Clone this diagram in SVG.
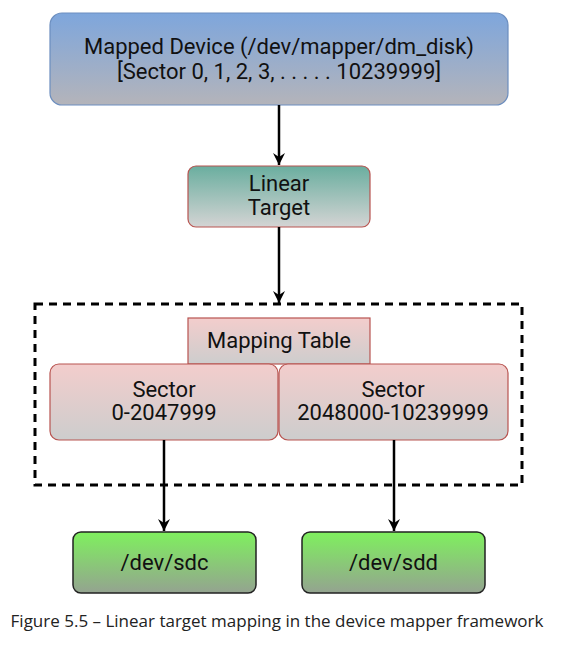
<svg xmlns="http://www.w3.org/2000/svg" width="564" height="648" viewBox="0 0 564 648">
  <defs>
    <linearGradient id="gBlue" x1="0" y1="0" x2="0" y2="1">
      <stop offset="0" stop-color="#7ea6dc"/>
      <stop offset="1" stop-color="#b4b4ba"/>
    </linearGradient>
    <linearGradient id="gTeal" x1="0" y1="0" x2="0" y2="1">
      <stop offset="0" stop-color="#6aae9f"/>
      <stop offset="1" stop-color="#d4d4d4"/>
    </linearGradient>
    <linearGradient id="gRed" x1="0" y1="0" x2="0" y2="1">
      <stop offset="0" stop-color="#f3cdcc"/>
      <stop offset="1" stop-color="#cdcdcd"/>
    </linearGradient>
    <linearGradient id="gGreen" x1="0" y1="0" x2="0" y2="1">
      <stop offset="0" stop-color="#7ff05e"/>
      <stop offset="1" stop-color="#94a390"/>
    </linearGradient>
    <marker id="arr" markerWidth="14" markerHeight="14" viewBox="0 0 14 14" refX="12" refY="7" orient="auto" markerUnits="userSpaceOnUse">
      <path d="M0,1 L12,7 L0,13 L4,7 Z" fill="#000"/>
    </marker>
  </defs>
  <style>
    text { font-family: Roboto, "Liberation Sans", sans-serif; font-size: 22px; fill: #111; text-anchor: middle; }
    .cap { font-family: "Open Sans", "Noto Sans", sans-serif; font-size: 17px; fill: #222; }
    .conn { stroke: #000; stroke-width: 2.5; fill: none; }
    .red { fill: url(#gRed); stroke: #b85450; stroke-width: 1.2; }
  </style>
  <rect width="564" height="648" fill="#fff"/>

  <g id="frame">
    <rect x="35" y="304" width="487" height="181" fill="none" stroke="#000" stroke-width="3" stroke-dasharray="8 6"/>
  </g>

  <g id="mapped-device">
    <rect x="50" y="13" width="458" height="92" rx="12" fill="url(#gBlue)" stroke="#6c8ebf" stroke-width="1.2"/>
    <text x="279" y="54">Mapped Device (/dev/mapper/dm_disk)</text>
    <text x="279" y="79">[Sector 0, 1, 2, 3, . . . . . 10239999]</text>
  </g>

  <g id="linear-target">
    <rect x="188" y="166" width="182" height="61" rx="8" fill="url(#gTeal)" stroke="#b85450" stroke-width="1.2"/>
    <text x="279" y="191">Linear</text>
    <text x="279" y="215">Target</text>
  </g>

  <g id="mapping-table">
    <rect x="188" y="318" width="182" height="46" class="red"/>
    <text x="279" y="348">Mapping Table</text>
  </g>

  <g id="sector-a">
    <rect x="50" y="364" width="228" height="76" rx="9" class="red"/>
    <text x="164" y="397">Sector</text>
    <text x="164" y="420">0-2047999</text>
  </g>

  <g id="sector-b">
    <rect x="279" y="364" width="229" height="76" rx="9" class="red"/>
    <text x="393" y="397">Sector</text>
    <text x="393" y="420">2048000-10239999</text>
  </g>

  <g id="sdc">
    <rect x="73" y="532" width="183" height="61" rx="8" fill="url(#gGreen)" stroke="#222" stroke-width="1.5"/>
    <text x="164.5" y="570">/dev/sdc</text>
  </g>

  <g id="sdd">
    <rect x="302" y="532" width="183" height="61" rx="8" fill="url(#gGreen)" stroke="#222" stroke-width="1.5"/>
    <text x="393.5" y="570">/dev/sdd</text>
  </g>

  <g id="connectors">
    <line x1="279" y1="105" x2="279" y2="165" class="conn" marker-end="url(#arr)"/>
    <line x1="279" y1="227" x2="279" y2="303" class="conn" marker-end="url(#arr)"/>
    <line x1="164" y1="440" x2="164" y2="531" class="conn" marker-end="url(#arr)"/>
    <line x1="394" y1="440" x2="394" y2="531" class="conn" marker-end="url(#arr)"/>
  </g>

  <text class="cap" x="277" y="627">Figure 5.5 – Linear target mapping in the device mapper framework</text>
</svg>
